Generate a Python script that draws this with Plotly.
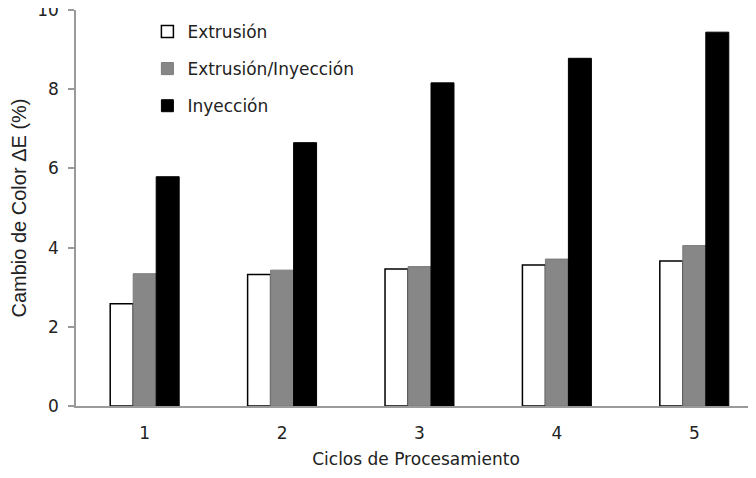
import plotly.graph_objects as go

ciclos = [1, 2, 3, 4, 5]
extrusion = [2.58, 3.32, 3.46, 3.56, 3.66]
ext_iny = [3.34, 3.43, 3.52, 3.71, 4.05]
inyeccion = [5.79, 6.65, 8.16, 8.78, 9.44]
y_ticks = [0, 2, 4, 6, 8, 10]

FONT = "DejaVu Sans"
YFONT = "Liberation Sans"
TXT = "#222222"
AX = "#9a9a9a"

fig = go.Figure()
fig.add_trace(go.Bar(x=ciclos, y=extrusion, name="Extrusión", legendgroup="a",
                     marker=dict(color="white", line=dict(color="black", width=1.5))))
fig.add_trace(go.Bar(x=ciclos, y=ext_iny, name="Extrusión/Inyección", legendgroup="b",
                     marker=dict(color="#878787", line=dict(color="#7a7a7a", width=1))))
fig.add_trace(go.Bar(x=ciclos, y=inyeccion, name="Inyección", legendgroup="c",
                     marker=dict(color="black", line=dict(color="black", width=1))))

fig.update_layout(
    width=748, height=470,
    margin=dict(l=68, r=0, t=2, b=72, autoexpand=False),
    paper_bgcolor="white", plot_bgcolor="white",
    barmode="group", bargap=0.498, bargroupgap=0,
    font=dict(family=FONT, size=17, color=TXT),
    showlegend=True,
    legend=dict(x=0.105, y=0.99, xanchor="left", yanchor="top",
                bgcolor="rgba(0,0,0,0)", tracegroupgap=12,
                font=dict(family=FONT, size=17, color=TXT)),
    xaxis=dict(range=[0.5, 5.449], tickmode="array", tickvals=ciclos,
               ticktext=[str(c) for c in ciclos], automargin=False,
               showline=True, linecolor=AX, linewidth=1.5,
               ticks="outside", ticklen=11, tickcolor="rgba(0,0,0,0)",
               showgrid=False, zeroline=False,
               title=dict(text="Ciclos de Procesamiento", standoff=11,
                          font=dict(family=FONT, size=17, color=TXT)),
               tickfont=dict(family=FONT, size=17, color=TXT)),
    yaxis=dict(range=[0, 10], tickmode="array", tickvals=y_ticks,
               showline=True, linecolor=AX, linewidth=1.5, automargin=False,
               ticks="outside", ticklen=6, tickcolor=AX, tickwidth=1.5,
               ticklabelstandoff=6, ticklabeloverflow="allow",
               showgrid=False, zeroline=False,
               title=dict(text="Cambio de Color ΔE (%)", standoff=12,
                          font=dict(family=YFONT, size=20, color=TXT)),
               tickfont=dict(family=FONT, size=17, color=TXT)),
)

fig.write_html("out.html")
